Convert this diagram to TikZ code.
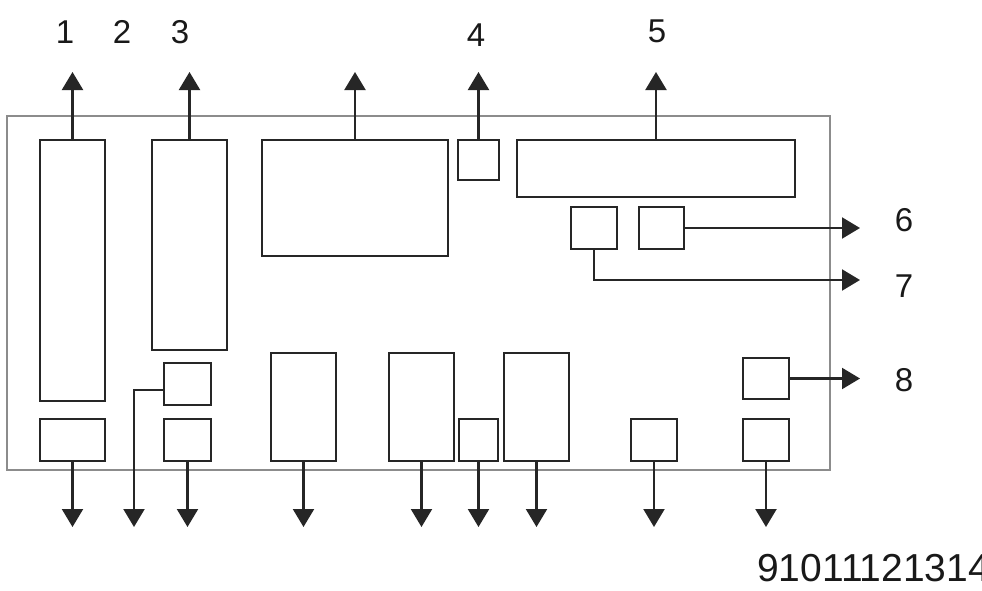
\documentclass[tikz,border=0pt]{standalone}
\usepackage{fontspec}
\setmainfont{Liberation Sans}
\usetikzlibrary{arrows.meta}
\begin{document}
\begin{tikzpicture}[x=1pt,y=-1pt,
  blk/.style={draw=black!85,line width=2.5pt,inner sep=0pt,outer sep=0pt,anchor=north west},
  frm/.style={draw=black!45,line width=1.5pt},
  arr/.style={draw=black!85,line width=2.2pt,-{Triangle[length=18pt,width=21pt]}},
  lbl/.style={font=\fontsize{33}{36}\selectfont,inner sep=0pt,text=black!90},
  lblb/.style={font=\fontsize{39}{42}\selectfont,inner sep=0pt,text=black!90,anchor=west}]
\useasboundingbox (0,0) rectangle (982,590);
\fill[white] (0,0) rectangle (982,590);
\draw[frm] (7,116) rectangle (830,470);
\node[blk,minimum width=65pt,minimum height=261pt] (bA) at (40,140) {};
\node[blk,minimum width=65pt,minimum height=42pt] (bAs) at (40,419) {};
\node[blk,minimum width=75pt,minimum height=210pt] (bB) at (152,140) {};
\node[blk,minimum width=47pt,minimum height=42pt] (bC) at (164,363) {};
\node[blk,minimum width=47pt,minimum height=42pt] (bCs) at (164,419) {};
\node[blk,minimum width=186pt,minimum height=116pt] (bD) at (262,140) {};
\node[blk,minimum width=41pt,minimum height=40pt] (bE) at (458,140) {};
\node[blk,minimum width=278pt,minimum height=57pt] (bF) at (517,140) {};
\node[blk,minimum width=46pt,minimum height=42pt] (bG) at (571,207) {};
\node[blk,minimum width=45pt,minimum height=42pt] (bH) at (639,207) {};
\node[blk,minimum width=65pt,minimum height=108pt] (bI) at (271,353) {};
\node[blk,minimum width=65pt,minimum height=108pt] (bJ) at (389,353) {};
\node[blk,minimum width=39pt,minimum height=42pt] (bK) at (459,419) {};
\node[blk,minimum width=65pt,minimum height=108pt] (bL) at (504,353) {};
\node[blk,minimum width=46pt,minimum height=42pt] (bM) at (631,419) {};
\node[blk,minimum width=46pt,minimum height=41pt] (bN) at (743,358) {};
\node[blk,minimum width=46pt,minimum height=42pt] (bNs) at (743,419) {};
\coordinate (top) at (0,72);
\coordinate (bot) at (0,527);
\coordinate (rgt) at (860,0);
% top arrows
\draw[arr] (bA.north) -- (bA.north |- top);
\draw[arr] (bB.north) -- (bB.north |- top);
\draw[arr] (bD.north) -- (bD.north |- top);
\draw[arr] (bE.north) -- (bE.north |- top);
\draw[arr] (bF.north) -- (bF.north |- top);
% right arrows
\draw[arr] (bH.east) -- (bH.east -| rgt);
\coordinate (g7) at (594,280);
\draw[arr] (bG.south -| g7) -- (g7) -- (g7 -| rgt);
\draw[arr] (bN.east) -- (bN.east -| rgt);
% bottom arrows
\coordinate (c2) at (134,390);
\draw[arr] (bC.west |- c2) -- (c2) -- (c2 |- bot);
\draw[arr] (bAs.south) -- (bAs.south |- bot);
\draw[arr] (bCs.south) -- (bCs.south |- bot);
\draw[arr] (bI.south) -- (bI.south |- bot);
\draw[arr] (bJ.south) -- (bJ.south |- bot);
\draw[arr] (bK.south) -- (bK.south |- bot);
\draw[arr] (bL.south) -- (bL.south |- bot);
\draw[arr] (bM.south) -- (bM.south |- bot);
\draw[arr] (bNs.south) -- (bNs.south |- bot);
% labels
\node[lbl] (l1) at (65,32) {1};
\node[lbl] (l2) at (122,32) {2};
\node[lbl] (l3) at (180,32) {3};
\node[lbl] (l4) at (476,35) {4};
\node[lbl] (l5) at (657,31) {5};
\node[lbl] (l6) at (904,220) {6};
\node[lbl] (l7) at (904,286) {7};
\node[lbl] (l8) at (904,380) {8};
\node[lblb] (l9) at (757,568) {91011121314};
\end{tikzpicture}
\end{document}
